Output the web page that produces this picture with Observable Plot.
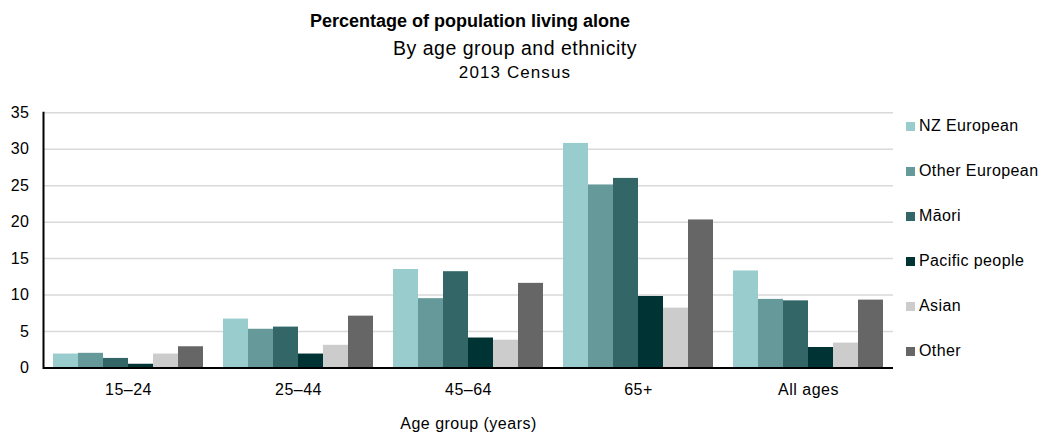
<!DOCTYPE html>
<html>
<head>
<meta charset="utf-8">
<script src="https://cdn.jsdelivr.net/npm/d3@7"></script>
<script src="https://cdn.jsdelivr.net/npm/@observablehq/plot@0.6"></script>
<style>
  html, body { margin: 0; padding: 0; background: #fff; }
  #wrap { position: relative; width: 1041px; height: 432px; overflow: hidden;
          font-family: "Liberation Sans", Arial, sans-serif; color: #000; }
  .t { position: absolute; white-space: nowrap; line-height: 1; }
  #chart { position: absolute; left: 0; top: 80px; }
  #chart svg text { letter-spacing: 0.5px; }
  .leg { position: absolute; left: 906px; white-space: nowrap; line-height: 1;
         font-size: 16px; letter-spacing: 0.4px; }
  .sw { display: inline-block; width: 9px; height: 9px; margin-right: 4px; vertical-align: 0px; }
</style>
</head>
<body>
<div id="wrap">
  <div class="t" id="title" style="font-weight:bold;font-size:18px;top:12px;left:0;width:940px;text-align:center;">Percentage of population living alone</div>
  <div class="t" id="sub" style="font-size:19.5px;letter-spacing:0.5px;top:39.2px;left:0;width:1030px;text-align:center;">By age group and ethnicity</div>
  <div class="t" id="census" style="font-size:17px;letter-spacing:1.1px;top:63.9px;left:0;width:1030px;text-align:center;">2013 Census</div>
  <div class="t" id="ylab" style="font-size:16px;letter-spacing:0.5px;top:83.5px;left:51px;">Percent</div>
  <div id="chart"></div>
  <div id="legend"></div>
</div>
<script>
const groups = ["15–24", "25–44", "45–64", "65+", "All ages"];
const ethnicities = ["NZ European", "Other European", "Māori", "Pacific people", "Asian", "Other"];
const colors = ["#99cccc", "#669999", "#336666", "#003333", "#cccccc", "#666666"];
const nzEuropean    = [1.9, 6.7, 13.5, 30.8, 13.3];
const otherEuropean = [2.0, 5.3, 9.5, 25.1, 9.4];
const maori         = [1.3, 5.6, 13.2, 26.0, 9.2];
const pacificPeople = [0.5, 1.9, 4.1, 9.8, 2.8];
const asian         = [1.9, 3.1, 3.8, 8.2, 3.4];
const other         = [2.9, 7.1, 11.6, 20.3, 9.3];
const yTicks = [0, 5, 10, 15, 20, 25, 30, 35];

const series = [nzEuropean, otherEuropean, maori, pacificPeople, asian, other];
const rows = [];
groups.forEach((g, i) => {
  ethnicities.forEach((e, j) => rows.push({group: g, eth: e, value: series[j][i]}));
});

const chart = Plot.plot({
  width: 1041,
  height: 352,
  marginLeft: 43,
  marginRight: 148,
  marginTop: 32.3,
  marginBottom: 64.6,
  style: {fontFamily: "Liberation Sans, Arial, sans-serif", fontSize: "16px", color: "#000", background: "#fff"},
  fx: {domain: groups, padding: 0},
  x: {domain: ethnicities, paddingInner: 0, paddingOuter: 0.29, axis: null},
  y: {domain: [0, 35]},
  color: {domain: ethnicities, range: colors},
  marks: [
    Plot.gridY(yTicks, {stroke: "#d9d9d9", strokeOpacity: 1, strokeWidth: 1.5}),
    Plot.barY(rows, {fx: "group", x: "eth", y: "value", fill: "eth", inset: 0}),
    Plot.ruleY([0], {stroke: "#000", strokeWidth: 2}),
    Plot.frame({anchor: "left", facetAnchor: "left", stroke: "#000", strokeWidth: 2}),
    Plot.axisY(yTicks, {tickSize: 0, tickPadding: 14, label: null}),
    Plot.axisFx({anchor: "bottom", tickSize: 0, tickPadding: 16, label: "Age group (years)", labelAnchor: "center", labelOffset: 61, labelArrow: "none"})
  ]
});
document.getElementById("chart").appendChild(chart);

const legend = document.getElementById("legend");
const baselines0 = 131, step = 45;
ethnicities.forEach((e, j) => {
  const d = document.createElement("div");
  d.className = "leg";
  d.style.top = (baselines0 + j * step - 13.5) + "px";
  const s = document.createElement("span");
  s.className = "sw";
  s.style.background = colors[j];
  d.appendChild(s);
  d.appendChild(document.createTextNode(e));
  legend.appendChild(d);
});
</script>
</body>
</html>
